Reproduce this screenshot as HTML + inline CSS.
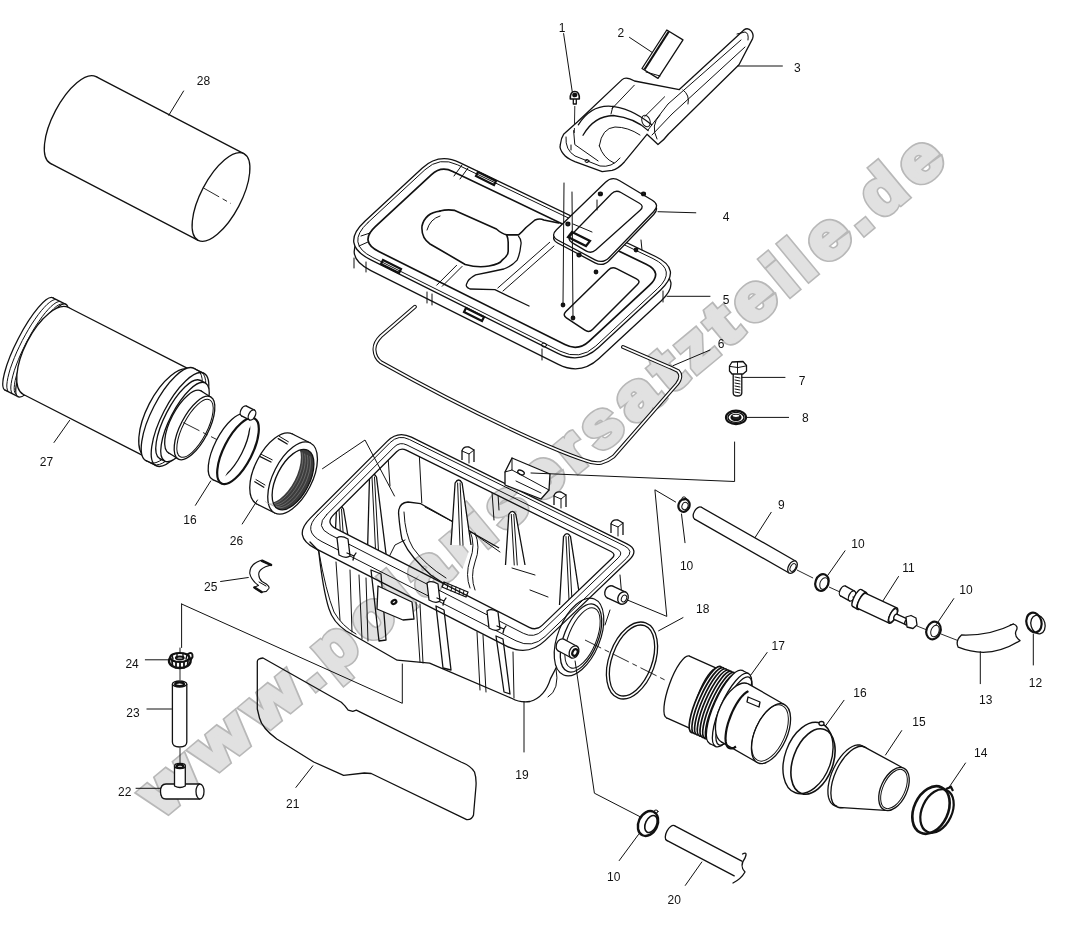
<!DOCTYPE html>
<html><head><meta charset="utf-8"><style>
html,body{margin:0;padding:0;background:#fff;width:1086px;height:944px;overflow:hidden;}
svg{display:block;filter:grayscale(100%);}
.l{fill:none;stroke:#111;stroke-width:1.3;stroke-linejoin:round;stroke-linecap:round;}
.t{fill:none;stroke:#111;stroke-width:1.0;stroke-linecap:round;}
.k{fill:none;stroke:#111;stroke-width:2.2;}
.w{fill:#fff;stroke:#111;stroke-width:1.3;stroke-linejoin:round;}
.none{fill:none;stroke:none;}
.d{fill:none;stroke:#111;stroke-width:0.9;stroke-dasharray:18 4 5 4;}
.lab{font-family:"Liberation Sans",sans-serif;font-size:12px;fill:#111;text-anchor:middle;}
</style></head><body>
<svg width="1086" height="944" viewBox="0 0 1086 944">
<rect width="1086" height="944" fill="#fff"/>
<g font-family="&quot;Liberation Sans&quot;, sans-serif" font-weight="bold" font-size="63" fill="#b8b8b8" stroke="#b8b8b8" stroke-width="7.0" stroke-linejoin="miter">
<text transform="translate(161.2,817.7) rotate(-39.73) scale(1.141,1)">w</text>
<text transform="translate(212.2,775.3) rotate(-39.73) scale(1.141,1)">w</text>
<text transform="translate(263.2,732.9) rotate(-39.73) scale(1.141,1)">w</text>
<text transform="translate(312.7,691.8) rotate(-39.73) scale(1.005,1)">.</text>
<text transform="translate(332.0,675.7) rotate(-39.73) scale(1.024,1)">p</text>
<text transform="translate(369.0,645.0) rotate(-39.73) scale(1.024,1)">o</text>
<text transform="translate(405.1,614.9) rotate(-39.73) scale(1.005,1)">l</text>
<text transform="translate(424.5,598.9) rotate(-39.73) scale(1.125,1)">a</text>
<text transform="translate(460.9,568.6) rotate(-39.73) scale(1.014,1)">r</text>
<text transform="translate(485.2,548.4) rotate(-39.73) scale(1.005,1)">i</text>
<text transform="translate(504.4,532.4) rotate(-39.73) scale(1.021,1)">s</text>
<text transform="translate(538.4,504.2) rotate(-39.73) scale(1.125,1)">e</text>
<text transform="translate(574.8,473.9) rotate(-39.73) scale(1.014,1)">r</text>
<text transform="translate(599.9,453.1) rotate(-39.73) scale(1.021,1)">s</text>
<text transform="translate(633.9,424.8) rotate(-39.73) scale(1.125,1)">a</text>
<text transform="translate(670.3,394.6) rotate(-39.73) scale(1.185,1)">t</text>
<text transform="translate(695.2,373.8) rotate(-39.73) scale(1.021,1)">z</text>
<text transform="translate(725.8,348.5) rotate(-39.73) scale(1.185,1)">t</text>
<text transform="translate(751.0,327.5) rotate(-39.73) scale(1.125,1)">e</text>
<text transform="translate(787.1,297.5) rotate(-39.73) scale(1.005,1)">i</text>
<text transform="translate(805.5,282.2) rotate(-39.73) scale(1.005,1)">l</text>
<text transform="translate(824.9,266.1) rotate(-39.73) scale(1.125,1)">e</text>
<text transform="translate(861.0,236.1) rotate(-39.73) scale(1.005,1)">.</text>
<text transform="translate(880.3,220.0) rotate(-39.73) scale(1.024,1)">d</text>
<text transform="translate(917.3,189.3) rotate(-39.73) scale(1.125,1)">e</text>
</g>
<g font-family="&quot;Liberation Sans&quot;, sans-serif" font-weight="bold" font-size="63" fill="#e1e1e1" stroke="#e1e1e1" stroke-width="3.8" stroke-linejoin="miter">
<text transform="translate(161.2,817.7) rotate(-39.73) scale(1.141,1)">w</text>
<text transform="translate(212.2,775.3) rotate(-39.73) scale(1.141,1)">w</text>
<text transform="translate(263.2,732.9) rotate(-39.73) scale(1.141,1)">w</text>
<text transform="translate(312.7,691.8) rotate(-39.73) scale(1.005,1)">.</text>
<text transform="translate(332.0,675.7) rotate(-39.73) scale(1.024,1)">p</text>
<text transform="translate(369.0,645.0) rotate(-39.73) scale(1.024,1)">o</text>
<text transform="translate(405.1,614.9) rotate(-39.73) scale(1.005,1)">l</text>
<text transform="translate(424.5,598.9) rotate(-39.73) scale(1.125,1)">a</text>
<text transform="translate(460.9,568.6) rotate(-39.73) scale(1.014,1)">r</text>
<text transform="translate(485.2,548.4) rotate(-39.73) scale(1.005,1)">i</text>
<text transform="translate(504.4,532.4) rotate(-39.73) scale(1.021,1)">s</text>
<text transform="translate(538.4,504.2) rotate(-39.73) scale(1.125,1)">e</text>
<text transform="translate(574.8,473.9) rotate(-39.73) scale(1.014,1)">r</text>
<text transform="translate(599.9,453.1) rotate(-39.73) scale(1.021,1)">s</text>
<text transform="translate(633.9,424.8) rotate(-39.73) scale(1.125,1)">a</text>
<text transform="translate(670.3,394.6) rotate(-39.73) scale(1.185,1)">t</text>
<text transform="translate(695.2,373.8) rotate(-39.73) scale(1.021,1)">z</text>
<text transform="translate(725.8,348.5) rotate(-39.73) scale(1.185,1)">t</text>
<text transform="translate(751.0,327.5) rotate(-39.73) scale(1.125,1)">e</text>
<text transform="translate(787.1,297.5) rotate(-39.73) scale(1.005,1)">i</text>
<text transform="translate(805.5,282.2) rotate(-39.73) scale(1.005,1)">l</text>
<text transform="translate(824.9,266.1) rotate(-39.73) scale(1.125,1)">e</text>
<text transform="translate(861.0,236.1) rotate(-39.73) scale(1.005,1)">.</text>
<text transform="translate(880.3,220.0) rotate(-39.73) scale(1.024,1)">d</text>
<text transform="translate(917.3,189.3) rotate(-39.73) scale(1.125,1)">e</text>
</g>
<g>
<ellipse class="w" cx="73.2" cy="120.0" rx="20.0" ry="49.0" transform="rotate(27.8 73.2 120.0)" />
<path d="M96.0,76.6 L243.8,153.6 L198.2,240.4 L50.4,163.4 Z" fill="#fff" stroke="none"/>
<path class="l" d="M96.0,76.6 L243.8,153.6"/>
<path class="l" d="M50.4,163.4 L198.2,240.4"/>
<ellipse class="w" cx="221.0" cy="197.0" rx="20.0" ry="49.0" transform="rotate(27.8 221.0 197.0)" />
<path class="d" d="M203.5,188.0 L231.0,203.6"/>
<ellipse class="w" cx="29.0" cy="344.0" rx="12.0" ry="52.0" transform="rotate(27.4 29.0 344.0)" />
<path d="M52.9,297.8 L65.9,304.3 L18.1,396.7 L5.1,390.2 Z" fill="#fff" stroke="none"/>
<path class="l" d="M52.9,297.8 L65.9,304.3"/>
<path class="l" d="M5.1,390.2 L18.1,396.7"/>
<ellipse class="w" cx="42.0" cy="350.5" rx="12.0" ry="52.0" transform="rotate(27.4 42.0 350.5)" />
<path class="t" d="M8.2,391.5 L7.4,390.0 L6.9,387.8 L6.8,385.0 L7.2,381.5 L7.9,377.6 L9.0,373.1 L10.4,368.3 L12.3,363.0 L14.4,357.6 L16.8,351.9 L19.5,346.2 L22.3,340.5 L25.4,334.8 L28.5,329.3 L31.7,324.1 L35.0,319.2 L38.2,314.7 L41.3,310.7 L44.3,307.3 L47.1,304.4 L49.8,302.2 L52.1,300.6 L54.2,299.7 L55.9,299.5" />
<path class="t" d="M12.2,393.5 L11.4,392.0 L10.9,389.8 L10.8,387.0 L11.2,383.5 L11.9,379.6 L13.0,375.1 L14.4,370.3 L16.3,365.0 L18.4,359.6 L20.8,353.9 L23.5,348.2 L26.3,342.5 L29.4,336.8 L32.5,331.3 L35.7,326.1 L39.0,321.2 L42.2,316.7 L45.3,312.7 L48.3,309.3 L51.1,306.4 L53.8,304.2 L56.1,302.6 L58.2,301.7 L59.9,301.5" />
<path class="t" d="M15.7,394.1 L14.8,392.6 L14.3,390.5 L14.2,387.7 L14.5,384.3 L15.2,380.4 L16.3,376.0 L17.7,371.2 L19.5,366.1 L21.6,360.8 L23.9,355.2 L26.5,349.6 L29.3,344.0 L32.3,338.4 L35.4,333.1 L38.6,327.9 L41.8,323.1 L44.9,318.8 L48.0,314.8 L51.0,311.4 L53.8,308.6 L56.3,306.4 L58.7,304.9 L60.7,304.1 L62.5,303.9" />
<ellipse class="w" cx="46.0" cy="351.0" rx="21.0" ry="49.0" transform="rotate(27.4 46.0 351.0)" />
<path d="M68.5,307.5 L190.5,369.8 L145.5,456.8 L23.5,394.5 Z" fill="#fff" stroke="none"/>
<path class="l" d="M68.5,307.5 L190.5,369.8"/>
<path class="l" d="M23.5,394.5 L145.5,456.8"/>
<ellipse class="w" cx="168.0" cy="413.3" rx="21.0" ry="49.0" transform="rotate(27.4 168.0 413.3)" />
<ellipse class="w" cx="170.0" cy="414.5" rx="18.0" ry="52.0" transform="rotate(27.4 170.0 414.5)" />
<path d="M193.8,368.3 L203.8,373.3 L156.2,465.7 L146.2,460.7 Z" fill="#fff" stroke="none"/>
<path class="l" d="M193.8,368.3 L203.8,373.3"/>
<path class="l" d="M146.2,460.7 L156.2,465.7"/>
<ellipse class="w" cx="180.0" cy="419.5" rx="18.0" ry="52.0" transform="rotate(27.4 180.0 419.5)" />
<path class="t" d="M195.9,369.5 L198.2,370.6 L200.0,372.5 L201.3,375.2 L202.1,378.7 L202.3,382.9 L201.9,387.8 L201.1,393.2 L199.7,399.1 L197.8,405.2 L195.4,411.6 L192.6,418.1 L189.5,424.5 L186.0,430.8 L182.3,436.8 L178.5,442.4 L174.5,447.5 L170.6,452.1 L166.7,455.9 L162.9,459.0 L159.3,461.2 L156.0,462.6 L153.0,463.2 L150.4,462.8 L148.3,461.5" />
<path class="t" d="M199.4,371.3 L201.7,372.3 L203.5,374.2 L204.8,376.9 L205.6,380.5 L205.8,384.7 L205.4,389.6 L204.6,395.0 L203.2,400.8 L201.3,407.0 L198.9,413.4 L196.1,419.8 L193.0,426.3 L189.5,432.6 L185.8,438.6 L182.0,444.2 L178.0,449.3 L174.1,453.8 L170.2,457.6 L166.4,460.7 L162.8,463.0 L159.5,464.4 L156.5,464.9 L153.9,464.5 L151.8,463.3" />
<ellipse class="w" cx="180.0" cy="419.5" rx="15.0" ry="44.0" transform="rotate(27.4 180.0 419.5)" />
<path d="M200.2,380.4 L205.2,382.9 L164.8,461.1 L159.8,458.6 Z" fill="#fff" stroke="none"/>
<path class="l" d="M200.2,380.4 L205.2,382.9"/>
<path class="l" d="M159.8,458.6 L164.8,461.1"/>
<ellipse class="w" cx="185.0" cy="422.0" rx="15.0" ry="44.0" transform="rotate(27.4 185.0 422.0)" />
<ellipse class="w" cx="185.0" cy="422.0" rx="14.0" ry="35.0" transform="rotate(27.4 185.0 422.0)" />
<path d="M201.5,391.2 L211.0,397.2 L178.0,458.8 L168.5,452.8 Z" fill="#fff" stroke="none"/>
<path class="l" d="M201.5,391.2 L211.0,397.2"/>
<path class="l" d="M168.5,452.8 L178.0,458.8"/>
<ellipse class="w" cx="194.5" cy="428.0" rx="14.0" ry="35.0" transform="rotate(27.4 194.5 428.0)" />
<ellipse class="t" cx="195.0" cy="428.3" rx="12.0" ry="32.0" transform="rotate(27.4 195.0 428.3)" />
<path class="d" d="M183.4,422.6 L217.7,440.0"/>
<ellipse class="w" cx="229.0" cy="447.0" rx="14.2" ry="36.4" transform="rotate(27 229.0 447.0)" />
<path d="M245.3,414.4 L254.3,418.4 L221.7,483.6 L212.7,479.6 Z" fill="#fff" stroke="none"/>
<path class="l" d="M245.3,414.4 L254.3,418.4"/>
<path class="l" d="M212.7,479.6 L221.7,483.6"/>
<ellipse class="k" cx="238.0" cy="451.0" rx="14.2" ry="36.4" transform="rotate(27 238.0 451.0)" />
<ellipse class="w" cx="244.0" cy="411.0" rx="3.2" ry="5.5" transform="rotate(27 244.0 411.0)" />
<path d="M246.5,406.1 L254.5,410.1 L249.5,419.9 L241.5,415.9 Z" fill="#fff" stroke="none"/>
<path class="l" d="M246.5,406.1 L254.5,410.1"/>
<path class="l" d="M241.5,415.9 L249.5,419.9"/>
<ellipse class="w" cx="252.0" cy="415.0" rx="3.2" ry="5.5" transform="rotate(27 252.0 415.0)" />
<ellipse class="w" cx="274.6" cy="469.0" rx="19.4" ry="39.3" transform="rotate(27 274.6 469.0)" />
<path d="M292.4,434.0 L310.4,443.0 L274.8,513.0 L256.8,504.0 Z" fill="#fff" stroke="none"/>
<path class="l" d="M292.4,434.0 L310.4,443.0"/>
<path class="l" d="M256.8,504.0 L274.8,513.0"/>
<ellipse class="w" cx="292.6" cy="478.0" rx="19.4" ry="39.3" transform="rotate(27 292.6 478.0)" />
<defs><clipPath id="nutc"><ellipse cx="293" cy="479.6" rx="16.4" ry="32.9" transform="rotate(27 293 479.6)"/></clipPath></defs>
<g clip-path="url(#nutc)"><rect x="250" y="430" width="80" height="100" fill="#3c3c3c"/><ellipse class="none" cx="280.0" cy="473.0" rx="16.4" ry="32.9" transform="rotate(27 280.0 473.0)" style="fill:#fff"/></g>
<path class="t" d="M309.9,456.6 L310.3,459.1 L310.5,461.9 L310.4,465.0 L310.0,468.2 L309.4,471.5 L308.4,474.9 L307.3,478.4 L305.9,481.9 L304.3,485.3 L302.4,488.6 L300.5,491.7 L298.3,494.7 L296.1,497.5 L293.8,500.0 L291.4,502.2 L289.1,504.0 L286.7,505.6 L284.4,506.7 L282.1,507.5 L280.0,507.8 L277.9,507.8 L276.1,507.3 L274.4,506.5 L273.0,505.3" style="stroke:#999;stroke-width:0.5"/>
<path class="t" d="M307.3,455.3 L307.7,457.8 L307.9,460.6 L307.8,463.7 L307.4,466.9 L306.8,470.2 L305.8,473.6 L304.7,477.1 L303.3,480.6 L301.7,484.0 L299.8,487.3 L297.9,490.4 L295.7,493.4 L293.5,496.2 L291.2,498.7 L288.8,500.9 L286.5,502.7 L284.1,504.3 L281.8,505.4 L279.5,506.2 L277.4,506.5 L275.3,506.5 L273.5,506.0 L271.8,505.2 L270.4,504.0" style="stroke:#999;stroke-width:0.5"/>
<path class="t" d="M304.7,454.0 L305.1,456.5 L305.3,459.3 L305.2,462.4 L304.8,465.6 L304.2,468.9 L303.2,472.3 L302.1,475.8 L300.7,479.3 L299.1,482.7 L297.2,486.0 L295.3,489.1 L293.1,492.1 L290.9,494.9 L288.6,497.4 L286.2,499.6 L283.9,501.4 L281.5,503.0 L279.2,504.1 L276.9,504.9 L274.8,505.2 L272.7,505.2 L270.9,504.7 L269.2,503.9 L267.8,502.7" style="stroke:#999;stroke-width:0.5"/>
<path class="t" d="M302.1,452.7 L302.5,455.2 L302.7,458.0 L302.6,461.1 L302.2,464.3 L301.6,467.6 L300.6,471.0 L299.5,474.5 L298.1,478.0 L296.5,481.4 L294.6,484.7 L292.7,487.8 L290.5,490.8 L288.3,493.6 L286.0,496.1 L283.6,498.3 L281.3,500.1 L278.9,501.7 L276.6,502.8 L274.3,503.6 L272.2,503.9 L270.1,503.9 L268.3,503.4 L266.6,502.6 L265.2,501.4" style="stroke:#999;stroke-width:0.5"/>
<ellipse class="l" cx="293.0" cy="479.6" rx="16.4" ry="32.9" transform="rotate(27 293.0 479.6)" />
<path class="l" d="M278.2,438.6 L287.2,444.0"/>
<path class="t" d="M279.4,436.4 L288.4,441.8"/>
<path class="l" d="M260.2,456.6 L271.0,462.0"/>
<path class="t" d="M261.4,454.4 L272.2,459.8"/>
<path class="l" d="M254.8,481.8 L263.8,487.2"/>
<path class="t" d="M256.0,479.6 L265.0,485.0"/>
<path class="w" d="M260.5,560.4 L271.3,564.9 L265.5,566.7 Q258,570 258.8,575 Q259,579 262,581.5 L266.3,584 Q270,587 268.8,588.5 L266.3,591.4 L261.3,592.3 L254,587.3 L258.5,585.5 Q251,580 249.7,573.2 Q250,564 260.5,560.4 Z" style="stroke-width:1.1"/>
<path class="l" d="M262,560.8 L271,564.9" style="stroke-width:2.6"/>
<path class="l" d="M254.5,587.5 L261.5,592" style="stroke-width:2.6"/>
<path class="t" d="M259,582 L266,586" />
<path class="l" d="M188,654 Q193,651 192.5,657 L190,661" style="stroke-width:2"/>
<ellipse class="w" cx="179.8" cy="661.0" rx="10.8" ry="7.0" style="stroke-width:2.4"/>
<ellipse class="w" cx="179.8" cy="657.5" rx="9.5" ry="4.5" style="stroke-width:2.2"/>
<ellipse class="w" cx="179.8" cy="658.0" rx="4.0" ry="1.5" style="stroke:#111;stroke-width:1.8"/>
<path class="l" d="M172,661 L172.5,666 M176,662.5 L176,667.5 M180,663 L180,668 M184,662.5 L184,667.5 M188,661 L187.5,666" style="stroke-width:1.8"/>
<path class="t" d="M172,655 L173,659 M177,653.5 L177,658 M183,653.5 L183,658 M187,655 L186,659" style="stroke-width:1.4"/>
<path class="w" d="M172.4,684 L172.4,742 Q172.4,747 179.6,747 Q186.8,747 186.8,742 L186.8,684" />
<ellipse class="w" cx="179.6" cy="684.0" rx="7.2" ry="3.0" />
<ellipse class="k" cx="179.6" cy="684.2" rx="4.5" ry="1.8" />
<path class="w" d="M200,784 L166,784 Q160.5,784 160.5,791.5 Q160.5,799 166,799 L200,799" />
<ellipse class="w" cx="200.0" cy="791.5" rx="4.0" ry="7.5" />
<path class="w" d="M174.5,766 L174.5,786 Q180,789 185.3,786 L185.3,766" />
<ellipse class="w" cx="180.0" cy="766.0" rx="5.4" ry="2.6" />
<ellipse class="k" cx="180.0" cy="766.3" rx="3.4" ry="1.6" />
<path class="t" d="M181.6,604.0 L181.6,647.5"/>
<path class="t" d="M180.0,648.0 L180.0,652.0"/>
<path class="d" d="M180.0,666.0 L180.0,680.0"/>
<path class="d" d="M180.0,748.0 L180.0,763.0"/>
<path class="l" d="M257.3,662 Q257,658.5 263,658 L341.3,702.2 L344.7,705.6 L348.2,710.2 L352.8,711.4 L356.3,710.2 L461,762 Q471,766 474.5,772 Q476.5,778 476,786 L473.5,815 Q472,820 466.7,819.6 L371.2,773.5 L364.3,773 L343.6,775.4 L313.7,762 L276.8,739 Q262,728 259.5,718 L257.3,709 Z" />
<path class="t" d="M181.6,604 L402.3,703.3 L402.3,664" />
</g>
<g>
<path class="w" d="M365.4,232.3 L422.6,179.2 Q439.5,163.6 460.2,173.6 L656.1,267.5 Q683.1,280.5 661.1,300.9 L599.0,358.6 Q580.7,375.6 558.3,364.4 L370.9,270.6 Q340.5,255.4 365.4,232.3 Z" />
<path class="w" d="M364.9,221.3 L422.1,168.2 Q439.0,152.6 459.7,162.6 L655.6,256.5 Q682.6,269.5 660.6,289.9 L598.5,347.6 Q580.2,364.6 557.8,353.4 L370.4,259.6 Q340.0,244.4 364.9,221.3 Z" />
<path class="t" d="M367.9,222.6 L424.9,169.8 Q439.5,156.2 457.6,164.8 L653.0,258.6 Q677.3,270.3 657.5,288.7 L595.8,346.0 Q579.7,361.0 560.0,351.1 L372.9,257.5 Q345.2,243.7 367.9,222.6 Z" />
<path class="l" d="M375.3,226.7 L431.5,174.6 Q441.0,165.8 452.7,171.4 L646.2,264.2 Q663.3,272.4 649.4,285.4 L589.3,341.1 Q578.3,351.4 564.9,344.6 L378.8,251.5 Q359.1,241.7 375.3,226.7 Z" style="stroke-width:1.7"/>
<path class="t" d="M354.0,258.0 L354.0,268.0"/>
<path class="t" d="M366.0,262.0 L366.0,272.0"/>
<path class="t" d="M427.0,292.0 L427.0,303.0"/>
<path class="t" d="M432.0,294.0 L432.0,305.0"/>
<path class="t" d="M542.0,349.0 L542.0,360.0"/>
<path class="t" d="M663.0,291.0 L663.0,302.0"/>
<path class="t" d="M436.7,285.2 L456.6,265.3 M442.2,286.3 L462.1,266.4" />
<path class="t" d="M497.8,288 L549.7,242.3 M503,291 L554,246" />
<path class="t" d="M462,165 L454,176 M468,168 L460,179" />
<path class="t" d="M359,246 L368,242 M361,236 L370,233" />
<path class="l" d="M440,211.1 Q447,209 454.8,210.4 L496.4,229 Q502,234 506.7,234.9 L518.6,234.9 Q522,232 526,227.5 L535,220 Q540,218 543.8,220 L558.6,223" style="stroke-width:1.6"/>
<path class="l" d="M440,211.1 Q425,213 422,226 Q421,238 430,244 L440,249.7 L465.2,264.5 Q478,268 489,266 Q500,264 502.3,260 Q508,256 508.2,251.2 L508.2,242.3 Q508,238 506.7,234.9" style="stroke-width:1.6"/>
<path class="l" d="M518.6,236.4 Q522,240 520.8,245.3 Q520,254 517.1,260.1 Q512,266 503.8,269 Q490,272 475.6,274.9 Q468,279 466.7,283.8 Q465,287 470,289 L494.9,289.7 L529,306" />
<path class="t" d="M427,230 Q430,219 440,216" />
<path class="l" d="M565.9,311.5 L608.4,270.0 Q612.0,266.5 616.5,268.7 L636.5,278.8 Q641.0,281.0 637.5,284.5 L592.5,329.5 Q589.0,333.0 584.9,330.2 L566.4,317.8 Q562.3,315.0 565.9,311.5 Z" style="stroke-width:1.5"/>
<path class="k" d="M383,260 L401,269 L399,273 L381,264 Z" />
<path class="k" d="M478,172 L496,181 L494,185 L476,176 Z" />
<path class="k" d="M466,308 L484,317 L482,321 L464,312 Z" />
<ellipse class="t" cx="544.0" cy="345.0" rx="2.5" ry="2.0" />
<path class="w" d="M556.5,232.7 L605.5,185.3 Q612.0,179.0 619.7,183.7 L652.3,203.3 Q660.0,208.0 653.7,214.5 L609.3,260.5 Q603.0,267.0 595.0,262.8 L558.0,243.2 Q550.0,239.0 556.5,232.7 Z" />
<path class="w" d="M556.5,229.7 L605.5,182.3 Q612.0,176.0 619.7,180.7 L652.3,200.3 Q660.0,205.0 653.7,211.5 L609.3,257.5 Q603.0,264.0 595.0,259.8 L558.0,240.2 Q550.0,236.0 556.5,229.7 Z" />
<path class="l" d="M571.0,235.2 L611.5,193.8 Q615.7,189.5 620.9,192.5 L639.4,203.2 Q644.6,206.2 640.1,210.2 L595.7,250.0 Q591.2,254.0 586.0,250.9 L572.0,242.6 Q566.8,239.5 571.0,235.2 Z" />
<ellipse class="k" cx="600.4" cy="193.9" rx="1.5" ry="1.3" />
<ellipse class="k" cx="643.5" cy="193.9" rx="1.5" ry="1.3" />
<ellipse class="k" cx="567.9" cy="224.0" rx="1.5" ry="1.3" />
<ellipse class="k" cx="579.0" cy="255.0" rx="1.5" ry="1.3" />
<path class="k" d="M572,232 L590,241 L586,246 L568,237 Z" />
<path class="t" d="M573,224 L592,232" />
<path class="t" d="M564.0,183.0 L563.0,305.0"/>
<path class="t" d="M572.0,192.0 L573.0,318.0"/>
<path class="t" d="M597.0,200.0 L597.0,210.0"/>
<path class="t" d="M641.0,240.0 L642.0,250.0"/>
<ellipse class="k" cx="563.0" cy="305.0" rx="1.3" ry="1.3" />
<ellipse class="k" cx="573.0" cy="318.0" rx="1.3" ry="1.3" />
<ellipse class="k" cx="596.0" cy="272.0" rx="1.3" ry="1.3" />
<ellipse class="k" cx="636.0" cy="250.0" rx="1.3" ry="1.3" />
<path class="l" d="M414.9,306.7 L381,336 Q374,343 374.5,350 Q375,358 381,362.3 Q450,401 520,433.5 Q560,452 585.4,460.5 Q594,464 601,462.8 Q608,461 613.6,456.5 L677,384 Q683,376 678,371 L670,367.3 L623,347" style="stroke-width:3.9"/>
<path class="l" d="M414.9,306.7 L381,336 Q374,343 374.5,350 Q375,358 381,362.3 Q450,401 520,433.5 Q560,452 585.4,460.5 Q594,464 601,462.8 Q608,461 613.6,456.5 L677,384 Q683,376 678,371 L670,367.3 L623,347" style="stroke:#fff;stroke-width:1.8"/>
<path class="w" d="M577.3,122 L622.1,79.6 Q626,76 634.5,81 L679.3,89.6 L743.9,29.9 Q748,27 751.4,31.2 Q754,35 752.6,38.6 L739,64.7 L668.5,134 Q664,140 658,144.5 L647,134.3 L624.6,161.7 Q618,169 612.1,170.4 L602.2,171.6 L574.8,161.7 Q566,158 563.6,154.2 Q559,149 560.4,144.3 Q561,138 563.6,134.3 Z" />
<path class="l" d="M578.3,124.8 Q590,106 608.6,106.1 Q630,107 651.7,124.8" />
<path class="l" d="M583,135.3 Q594,116 613.3,115.5 Q635,118 648.2,130.6" />
<path class="t" d="M599.3,145.8 Q602,128 615,127 Q628,127 640,135" />
<path class="t" d="M599.3,145.8 Q603,158 614,163" />
<path class="t" d="M634.3,85.2 L612.1,108.5 M664.6,96.8 L644.7,116.6 M613,106 L611,114" />
<path class="t" d="M566,137 Q565,150 575,156 L600,166 Q612,168 620,158" />
<path class="t" d="M573.6,130.6 L574.8,144.6 L598.1,160.9" />
<ellipse class="t" cx="646.0" cy="121.0" rx="4.0" ry="6.0" transform="rotate(-20 646.0 121.0)" />
<path class="t" d="M648,130 L668,104 L741,40" />
<path class="t" d="M652,135 L672,114 L745,47" />
<path class="t" d="M657,139 Q650,125 660,115" />
<path class="t" d="M683,90 Q690,95 688,104" />
<path class="t" d="M737,34 L745,32 Q749,33 748,40" />
<path class="t" d="M571,150 L571,145" />
<ellipse class="t" cx="587.0" cy="161.0" rx="2.0" ry="1.5" />
<path class="w" d="M642,68.5 L666.8,30 L683,39.9 L658,78.4 Z" />
<path class="k" d="M644.5,69.5 L668.8,31.5" />
<path class="t" d="M646,72 L660,76" />
<path class="l" d="M573.3,99.5 L573.3,104 L576.3,104 L576.3,99.5" />
<path class="w" d="M570.3,99 Q570,91.5 574.8,91.5 Q579.6,91.5 579.3,99 Z" style="stroke-width:1.6"/>
<ellipse class="k" cx="574.8" cy="95.0" rx="1.5" ry="1.2" />
<path class="d" d="M574.8,106.0 L574.3,134.3"/>
<path class="w" d="M733.2,374 L733.2,393 Q733.2,396 737.5,396 Q741.8,396 741.8,393 L741.8,374" />
<path class="t" d="M735,377 L740,378 M735,380 L740,381 M735,383 L740,384 M735,386 L740,387 M735,389 L740,390 M735,392 L740,393" />
<path class="w" d="M729.5,366 L732,362 L743,361.5 L746.5,365.5 L746.5,371 L743,374 L732,374 L729.5,371 Z" />
<path class="t" d="M730,366.5 Q738,369 746,366 M737.5,362 L737.5,373" />
<ellipse class="k" cx="736.0" cy="417.4" rx="10.0" ry="6.7" />
<ellipse class="w" cx="736.0" cy="417.4" rx="8.0" ry="5.0" />
<ellipse class="k" cx="736.0" cy="417.4" rx="4.5" ry="2.6" style="fill:#222"/>
<ellipse class="w" cx="736.0" cy="415.8" rx="3.3" ry="1.1" style="stroke:none"/>
</g>
<g>
<defs><clipPath id="boxin"><path d="M333.7,514.6 L396.6,451.7 Q400.8,447.5 406.2,450.2 L611.0,551.5 Q616.4,554.2 612.0,558.3 L542.1,625.4 Q536.4,631.0 529.2,627.3 L335.9,528.6 Q325.2,523.1 333.7,514.6 Z"/></clipPath></defs>
<path class="l" d="M310,542 L318.7,551 Q323,590 328.9,608.6 Q333,622 345.8,630.7 L397.2,660.2 L429.6,663.1 L512.1,698.5 Q520,703 530,701.5 Q545,697 550.5,678.6 L556,668" />
<path class="t" d="M318.7,551 Q326,592 334,612 Q342,626 356,634" />
<ellipse class="none" cx="579.0" cy="637.0" rx="21.0" ry="41.0" transform="rotate(22 579.0 637.0)" style="fill:#fff;stroke:#111;stroke-width:1.2"/>
<ellipse class="l" cx="581.0" cy="638.0" rx="17.0" ry="36.0" transform="rotate(22 581.0 638.0)" />
<ellipse class="t" cx="582.5" cy="638.0" rx="14.0" ry="32.0" transform="rotate(22 582.5 638.0)" />
<path class="t" d="M556,668 Q560,690 548,697" />
<path class="t" d="M622,598 L620,575 M610,610 L605,625" />
<ellipse class="w" cx="561.0" cy="645.0" rx="4.5" ry="6.5" transform="rotate(25 561.0 645.0)" />
<path d="M563.9,639.2 L576.9,646.2 L571.1,657.8 L558.1,650.8 Z" fill="#fff" stroke="none"/>
<path class="l" d="M563.9,639.2 L576.9,646.2"/>
<path class="l" d="M558.1,650.8 L571.1,657.8"/>
<ellipse class="w" cx="574.0" cy="652.0" rx="4.5" ry="6.5" transform="rotate(25 574.0 652.0)" />
<ellipse class="k" cx="575.0" cy="652.5" rx="2.5" ry="3.5" transform="rotate(25 575.0 652.5)" />
<ellipse class="w" cx="610.0" cy="592.0" rx="5.0" ry="6.5" transform="rotate(25 610.0 592.0)" />
<path d="M612.7,586.1 L625.7,592.1 L620.3,603.9 L607.3,597.9 Z" fill="#fff" stroke="none"/>
<path class="l" d="M612.7,586.1 L625.7,592.1"/>
<path class="l" d="M607.3,597.9 L620.3,603.9"/>
<ellipse class="w" cx="623.0" cy="598.0" rx="5.0" ry="6.5" transform="rotate(25 623.0 598.0)" />
<ellipse class="t" cx="624.0" cy="598.5" rx="2.5" ry="3.5" transform="rotate(25 624.0 598.5)" />
<path class="t" d="M359.0,575.0 L362.0,639.0"/>
<path class="t" d="M366.0,578.0 L368.0,641.0"/>
<path class="t" d="M416.0,602.0 L420.0,662.0"/>
<path class="t" d="M420.0,604.0 L423.0,663.0"/>
<path class="t" d="M477.0,632.0 L480.0,690.0"/>
<path class="t" d="M483.0,635.0 L486.0,692.0"/>
<path class="t" d="M513.0,652.0 L514.0,698.0"/>
<path class="t" d="M350.0,570.0 L352.0,632.0"/>
<path class="t" d="M336.0,562.0 L340.0,620.0"/>
<path class="l" d="M371,570 L381,574 L386,640 L379,641 Z" />
<path class="l" d="M436,606 L444,610 L451,670 L443,668 Z" />
<path class="l" d="M496,636 L503,639 L510,694 L504,692 Z" />
<path class="w" d="M378,586 L412,602 L414,619 L403,620 L377,609 Z" />
<ellipse class="k" cx="394.0" cy="602.0" rx="2.5" ry="1.8" transform="rotate(-30 394.0 602.0)" />
<g clip-path="url(#boxin)">
<path class="none" d="M470,548 L566,596 L600,600 L585,630 L540,640 L470,605 L455,590 Z" style="fill:#fff;stroke:none"/>
<path class="t" d="M387.0,441.0 L390.0,486.0"/>
<path class="t" d="M418.5,440.0 L421.8,503.0"/>
<path class="t" d="M491.0,478.0 L494.0,520.0"/>
<path class="t" d="M497.0,478.0 L499.0,510.0"/>
<path class="l" d="M398.6,514 Q398,503 408,502 L420.7,503.7 L451.2,520.7 L498.6,547.8" />
<path class="l" d="M398.6,514 Q400,530 402,539.3 Q407,550 414,558 Q422,567 430.8,575 L446,585" />
<path class="t" d="M404,512 Q405,535 413,548 Q425,565 446,578" />
<path class="t" d="M425,507 L470,531 L500,552" />
<path class="t" d="M470,531 Q476,545 470,560 Q465,575 470,588" />
<path class="t" d="M475,533 Q481,547 475,562 Q470,577 475,590" />
<path class="t" d="M512.0,568.0 L535.0,575.0"/>
<path class="t" d="M530.0,590.0 L548.0,597.0"/>
<path class="t" d="M380,575 L395,545 L405,540" />
<path class="w" d="M334,560 L336.5,509 Q340,503 343.5,509 L352,560" />
<path class="t" d="M339,509 L342.0,560 M341.5,509 L345.0,560" />
<path class="w" d="M367,570 L369.5,477 Q373,471 376.5,477 L388,570" />
<path class="t" d="M372,477 L376.5,570 M374.5,477 L379.5,570" />
<path class="w" d="M451,545 L455.1,483 Q458.6,477 462.1,483 L471,545" />
<path class="t" d="M457.6,483 L460.0,545 M460.1,483 L463.0,545" />
<path class="w" d="M505.5,565 L508.79999999999995,514.4 Q512.3,508.4 515.8,514.4 L525,565" />
<path class="t" d="M511.29999999999995,514.4 L514.25,565 M513.8,514.4 L517.25,565" />
<path class="w" d="M559.5,605 L563.5,536.6 Q567,530.6 570.5,536.6 L581,605" />
<path class="t" d="M566,536.6 L569.25,605 M568.5,536.6 L572.25,605" />
</g>
<path class="l" d="M310.4,518.1 L387.4,441.1 Q398.0,430.5 411.4,437.2 L627.0,543.8 Q639.5,550.0 629.4,559.7 L545.3,640.4 Q528.0,657.0 506.6,646.1 L315.2,548.3 Q292.0,536.5 310.4,518.1 Z" style="stroke-width:1.3"/>
<path class="t" d="M317.8,515.0 L390.1,442.6 Q398.6,434.1 409.4,439.5 L624.5,545.9 Q634.3,550.8 626.4,558.4 L545.0,636.5 Q532.0,649.0 516.0,640.8 L322.0,541.7 Q301.5,531.2 317.8,515.0 Z" />
<path class="t" d="M326.6,514.7 L394.1,447.1 Q399.8,441.4 407.0,445.0 L616.8,548.8 Q624.0,552.4 618.2,557.9 L542.7,630.4 Q534.0,638.7 523.3,633.3 L329.7,534.4 Q314.5,526.7 326.6,514.7 Z" />
<path class="l" d="M333.7,514.6 L396.6,451.7 Q400.8,447.5 406.2,450.2 L611.0,551.5 Q616.4,554.2 612.0,558.3 L542.1,625.4 Q536.4,631.0 529.2,627.3 L335.9,528.6 Q325.2,523.1 333.7,514.6 Z" />
<path class="l" d="M444,582 L468,592 L466,597 L442,587 Z" />
<path class="t" d="M448,584 L447,589 M452,585.5 L451,591 M456,587 L455,592.5 M460,589 L459,594 M464,590.5 L463,595.5" />
<path class="w" d="M462,460 L462,451 Q463,446 469,447 L474,450 L474,462" />
<path class="t" d="M462,451 L469,454 L474,450 M469,454 L469,463" />
<path class="w" d="M554,505 L554,496 Q555,491 561,492 L566,495 L566,507" />
<path class="t" d="M554,496 L561,499 L566,495 M561,499 L561,508" />
<path class="w" d="M611,533 L611,524 Q612,519 618,520 L623,523 L623,535" />
<path class="t" d="M611,524 L618,527 L623,523 M618,527 L618,536" />
<path class="w" d="M337,538 Q341,535 348,539 L350,556 Q346,559 339,555 Z" />
<path class="l" d="M347,553 L354,556 L353,560 M354,556 L356,553" />
<path class="w" d="M427,583 Q431,580 438,584 L440,601 Q436,604 429,600 Z" />
<path class="l" d="M437,598 L444,601 L443,605 M444,601 L446,598" />
<path class="w" d="M487,611 Q491,608 498,612 L500,629 Q496,632 489,628 Z" />
<path class="l" d="M497,626 L504,629 L503,633 M504,629 L506,626" />
<path class="w" d="M505,472 L512,458 L550,474 L549,490 L541,499 L505,485 Z" />
<path class="t" d="M512,458 L512,470 L505,472 M512,470 L549,490" />
<ellipse class="l" cx="521.0" cy="472.5" rx="3.5" ry="2.0" transform="rotate(25 521.0 472.5)" />
<path class="t" d="M516.0,481.0 L541.0,493.0"/>
<path class="t" d="M322.5,468.7 L365,440 L394.5,496" />
</g>
<g>
<path class="t" d="M531,473 L734.6,481.5 L734.6,442" />
<path class="t" d="M675.6,502 L654.9,489.8 L666.8,616.4 L628.1,600.3" />
<path class="t" d="M575.1,661 L594.4,793.2 L639.8,816.6" />
<path class="d" d="M585.0,640.0 L667.0,681.0"/>
<ellipse class="k" cx="684.0" cy="505.4" rx="5.5" ry="6.5" transform="rotate(20 684.0 505.4)" />
<ellipse class="t" cx="685.0" cy="506.0" rx="3.0" ry="3.8" transform="rotate(20 685.0 506.0)" />
<ellipse class="t" cx="684.0" cy="498.5" rx="2.0" ry="1.6" />
<ellipse class="w" cx="698.0" cy="513.2" rx="4.0" ry="6.8" transform="rotate(29.7 698.0 513.2)" />
<path d="M701.4,507.3 L795.9,561.2 L789.1,573.0 L694.6,519.1 Z" fill="#fff" stroke="none"/>
<path class="l" d="M701.4,507.3 L795.9,561.2"/>
<path class="l" d="M694.6,519.1 L789.1,573.0"/>
<ellipse class="w" cx="792.5" cy="567.1" rx="4.0" ry="6.8" transform="rotate(29.7 792.5 567.1)" />
<ellipse class="t" cx="793.0" cy="567.5" rx="2.5" ry="4.2" transform="rotate(29.7 793.0 567.5)" />
<path class="d" d="M797.0,570.0 L817.0,580.0"/>
<ellipse class="k" cx="822.0" cy="582.5" rx="6.5" ry="8.5" transform="rotate(20 822.0 582.5)" />
<ellipse class="t" cx="824.0" cy="583.5" rx="4.0" ry="6.0" transform="rotate(20 824.0 583.5)" />
<path class="d" d="M829.0,587.0 L840.0,592.0"/>
<ellipse class="w" cx="843.0" cy="591.0" rx="3.0" ry="5.5" transform="rotate(27 843.0 591.0)" />
<path d="M845.5,586.1 L854.5,591.1 L849.5,600.9 L840.5,595.9 Z" fill="#fff" stroke="none"/>
<path class="l" d="M845.5,586.1 L854.5,591.1"/>
<path class="l" d="M840.5,595.9 L849.5,600.9"/>
<ellipse class="w" cx="852.0" cy="596.0" rx="3.0" ry="5.5" transform="rotate(27 852.0 596.0)" />
<path class="l" d="M853.0,597.0 L858.0,600.0"/>
<ellipse class="w" cx="857.0" cy="598.0" rx="3.0" ry="9.5" transform="rotate(27 857.0 598.0)" />
<path d="M861.4,589.6 L866.4,592.6 L857.6,609.4 L852.6,606.4 Z" fill="#fff" stroke="none"/>
<path class="l" d="M861.4,589.6 L866.4,592.6"/>
<path class="l" d="M852.6,606.4 L857.6,609.4"/>
<ellipse class="w" cx="862.0" cy="601.0" rx="3.0" ry="9.5" transform="rotate(27 862.0 601.0)" />
<ellipse class="w" cx="862.0" cy="601.0" rx="3.0" ry="8.5" transform="rotate(27 862.0 601.0)" />
<path d="M865.8,593.4 L896.8,607.9 L889.2,623.1 L858.2,608.6 Z" fill="#fff" stroke="none"/>
<path class="l" d="M865.8,593.4 L896.8,607.9"/>
<path class="l" d="M858.2,608.6 L889.2,623.1"/>
<ellipse class="w" cx="893.0" cy="615.5" rx="3.0" ry="8.5" transform="rotate(27 893.0 615.5)" />
<ellipse class="w" cx="893.0" cy="615.5" rx="3.0" ry="7.5" transform="rotate(27 893.0 615.5)" />
<ellipse class="w" cx="896.0" cy="617.0" rx="2.0" ry="3.0" transform="rotate(27 896.0 617.0)" />
<path d="M897.3,614.3 L908.3,619.3 L905.7,624.7 L894.7,619.7 Z" fill="#fff" stroke="none"/>
<path class="l" d="M897.3,614.3 L908.3,619.3"/>
<path class="l" d="M894.7,619.7 L905.7,624.7"/>
<ellipse class="w" cx="907.0" cy="622.0" rx="2.0" ry="3.0" transform="rotate(27 907.0 622.0)" />
<path class="w" d="M906,617 L911,615.5 L916,618 L917,625 L913,628.5 L907,627 Z" />
<path class="d" d="M917.0,626.0 L927.0,630.0"/>
<ellipse class="k" cx="933.5" cy="630.5" rx="7.0" ry="9.0" transform="rotate(20 933.5 630.5)" />
<ellipse class="t" cx="935.0" cy="631.0" rx="4.0" ry="6.0" transform="rotate(20 935.0 631.0)" />
<path class="d" d="M941.0,634.0 L958.0,640.6"/>
<path class="w" d="M961.5,635 Q990,636 1013.4,624 Q1019,626 1016,631 Q1014,636 1020,640.6 Q990,660 958.2,647.2 Q955,641 961.5,635 Z" />
<path class="t" d="M1013.4,624 L1010,625" />
<ellipse class="k" cx="1034.0" cy="622.5" rx="7.5" ry="10.0" transform="rotate(-15 1034.0 622.5)" />
<ellipse class="l" cx="1038.0" cy="624.5" rx="7.0" ry="9.5" transform="rotate(-15 1038.0 624.5)" />
<ellipse class="l" cx="632.0" cy="660.5" rx="23.0" ry="40.0" transform="rotate(20 632.0 660.5)" style="stroke-width:1.3"/>
<ellipse class="l" cx="632.0" cy="660.5" rx="20.0" ry="37.0" transform="rotate(20 632.0 660.5)" style="stroke-width:1.3"/>
<ellipse class="w" cx="678.0" cy="687.0" rx="9.0" ry="33.0" transform="rotate(20 678.0 687.0)" />
<path d="M689.4,656.1 L717.4,668.6 L694.6,730.4 L666.6,717.9 Z" fill="#fff" stroke="none"/>
<path class="l" d="M689.4,656.1 L717.4,668.6"/>
<path class="l" d="M666.6,717.9 L694.6,730.4"/>
<ellipse class="w" cx="706.0" cy="699.5" rx="9.0" ry="33.0" transform="rotate(20 706.0 699.5)" />
<ellipse class="w" cx="706.0" cy="699.5" rx="9.0" ry="36.0" transform="rotate(24 706.0 699.5)" style="stroke-width:1.7"/>
<ellipse class="w" cx="708.7" cy="700.7" rx="9.0" ry="36.0" transform="rotate(24 708.7 700.7)" style="stroke-width:1.7"/>
<ellipse class="w" cx="711.4" cy="701.9" rx="9.0" ry="36.0" transform="rotate(24 711.4 701.9)" style="stroke-width:1.7"/>
<ellipse class="w" cx="714.1" cy="703.1" rx="9.0" ry="36.0" transform="rotate(24 714.1 703.1)" style="stroke-width:1.7"/>
<ellipse class="w" cx="716.8" cy="704.3" rx="9.0" ry="36.0" transform="rotate(24 716.8 704.3)" style="stroke-width:1.7"/>
<ellipse class="w" cx="719.5" cy="705.5" rx="9.0" ry="36.0" transform="rotate(24 719.5 705.5)" style="stroke-width:1.7"/>
<ellipse class="w" cx="722.2" cy="706.7" rx="9.0" ry="36.0" transform="rotate(24 722.2 706.7)" style="stroke-width:1.7"/>
<ellipse class="w" cx="724.9" cy="707.9" rx="9.0" ry="36.0" transform="rotate(24 724.9 707.9)" style="stroke-width:1.7"/>
<ellipse class="w" cx="726.0" cy="707.0" rx="12.0" ry="40.0" transform="rotate(24 726.0 707.0)" />
<path d="M742.4,670.5 L748.4,673.5 L715.6,746.5 L709.6,743.5 Z" fill="#fff" stroke="none"/>
<path class="l" d="M742.4,670.5 L748.4,673.5"/>
<path class="l" d="M709.6,743.5 L715.6,746.5"/>
<ellipse class="w" cx="732.0" cy="710.0" rx="12.0" ry="40.0" transform="rotate(24 732.0 710.0)" />
<ellipse class="l" cx="734.0" cy="711.0" rx="11.0" ry="37.0" transform="rotate(24 734.0 711.0)" />
<ellipse class="w" cx="735.0" cy="713.0" rx="16.0" ry="32.0" transform="rotate(24 735.0 713.0)" />
<path d="M748.7,684.1 L784.7,704.7 L757.3,762.5 L721.3,741.9 Z" fill="#fff" stroke="none"/>
<path class="l" d="M748.7,684.1 L784.7,704.7"/>
<path class="l" d="M721.3,741.9 L757.3,762.5"/>
<ellipse class="w" cx="771.0" cy="733.6" rx="16.0" ry="32.0" transform="rotate(24 771.0 733.6)" />
<path class="k" d="M736.0,746.5 L734.1,747.7 L732.2,748.4 L730.6,748.5 L729.1,748.1 L727.9,747.2 L726.9,745.7 L726.1,743.7 L725.7,741.2 L725.5,738.4 L725.7,735.2 L726.1,731.7 L726.8,727.9 L727.8,724.0 L729.1,720.0 L730.6,716.0 L732.2,712.1 L734.1,708.3 L736.0,704.7 L738.1,701.4 L740.2,698.4 L742.3,695.9 L744.4,693.8 L746.5,692.2 L748.4,691.1" />
<ellipse class="t" cx="770.0" cy="733.0" rx="15.0" ry="30.0" transform="rotate(24 770.0 733.0)" />
<path class="w" d="M748,697 L760,702 L759,707 L747,702 Z" />
<ellipse class="l" cx="808.0" cy="758.0" rx="23.0" ry="37.0" transform="rotate(20 808.0 758.0)" style="stroke-width:1.4"/>
<ellipse class="l" cx="813.0" cy="761.5" rx="20.0" ry="34.0" transform="rotate(20 813.0 761.5)" style="stroke-width:1.6"/>
<ellipse class="w" cx="821.5" cy="723.5" rx="2.5" ry="2.0" />
<ellipse class="w" cx="851.0" cy="777.0" rx="16.0" ry="33.0" transform="rotate(25 851.0 777.0)" />
<path d="M863.7,746.6 L902.6,767.7 L885.4,810.3 L838.3,807.4 Z" fill="#fff" stroke="none"/>
<path class="l" d="M863.7,746.6 L902.6,767.7"/>
<path class="l" d="M838.3,807.4 L885.4,810.3"/>
<ellipse class="w" cx="894.0" cy="789.0" rx="13.0" ry="23.0" transform="rotate(25 894.0 789.0)" />
<path class="l" d="M836.8,806.1 L834.5,805.6 L832.5,804.4 L830.8,802.6 L829.5,800.3 L828.5,797.4 L828.0,794.1 L827.9,790.3 L828.2,786.3 L829.0,782.0 L830.1,777.6 L831.6,773.1 L833.5,768.7 L835.7,764.5 L838.1,760.4 L840.8,756.7 L843.5,753.4 L846.4,750.6 L849.4,748.2 L852.3,746.5 L855.1,745.4 L857.7,744.9 L860.2,745.0 L862.4,745.8 L864.3,747.2" />
<ellipse class="t" cx="894.0" cy="789.0" rx="11.0" ry="21.0" transform="rotate(25 894.0 789.0)" />
<ellipse class="k" cx="931.0" cy="810.0" rx="17.0" ry="25.0" transform="rotate(25 931.0 810.0)" style="stroke-width:2.6"/>
<ellipse class="k" cx="937.0" cy="811.0" rx="15.0" ry="23.0" transform="rotate(25 937.0 811.0)" />
<path class="k" d="M946,789 L951,787 L953,791" />
<ellipse class="k" cx="648.0" cy="823.5" rx="9.5" ry="13.0" transform="rotate(25 648.0 823.5)" style="stroke-width:2.4"/>
<ellipse class="k" cx="651.0" cy="824.0" rx="5.5" ry="9.0" transform="rotate(25 651.0 824.0)" style="stroke-width:1.6"/>
<ellipse class="t" cx="656.0" cy="811.5" rx="2.0" ry="1.5" />
<ellipse class="w" cx="670.5" cy="833.0" rx="4.0" ry="8.3" transform="rotate(27.5 670.5 833.0)" />
<path d="M674.3,825.6 L741.8,861.1 L734.2,875.9 L666.7,840.4 Z" fill="#fff" stroke="none"/>
<path class="l" d="M674.3,825.6 L741.8,861.1"/>
<path class="l" d="M666.7,840.4 L734.2,875.9"/>
<ellipse class="none" cx="738.0" cy="868.5" rx="4.0" ry="8.3" transform="rotate(27.5 738.0 868.5)" />
<path class="l" d="M742.5,854 Q748,851 745,858 Q739,866 745,872 Q741,879 733,883" />
</g>
<g>
<path class="t" d="M563.6,33.6 L572.3,92.0"/>
<text class="lab" x="562.0" y="31.5">1</text>
<path class="t" d="M629.5,37.4 L652.0,52.3"/>
<text class="lab" x="620.8" y="37.0">2</text>
<path class="t" d="M737.7,66.0 L782.4,66.0"/>
<text class="lab" x="797.4" y="71.5">3</text>
<path class="t" d="M658.0,211.7 L695.8,212.8"/>
<text class="lab" x="726.0" y="221.0">4</text>
<path class="t" d="M667.0,296.3 L710.0,296.3"/>
<text class="lab" x="726.0" y="303.5">5</text>
<path class="t" d="M673.0,365.7 L710.0,350.0"/>
<text class="lab" x="721.0" y="348.0">6</text>
<path class="t" d="M742.0,377.4 L785.0,377.4"/>
<text class="lab" x="802.0" y="384.5">7</text>
<path class="t" d="M746.4,417.4 L788.6,417.4"/>
<text class="lab" x="805.4" y="422.0">8</text>
<path class="t" d="M771.2,512.3 L755.0,537.6"/>
<text class="lab" x="781.3" y="508.5">9</text>
<path class="t" d="M681.5,514.0 L685.0,542.7"/>
<text class="lab" x="686.6" y="570.0">10</text>
<path class="t" d="M845.0,550.8 L828.0,575.0"/>
<text class="lab" x="858.0" y="548.0">10</text>
<path class="t" d="M898.5,576.5 L883.0,600.8"/>
<text class="lab" x="908.5" y="572.0">11</text>
<path class="t" d="M953.8,598.6 L936.0,625.0"/>
<text class="lab" x="966.0" y="594.0">10</text>
<path class="t" d="M1033.3,634.0 L1033.3,665.0"/>
<text class="lab" x="1035.5" y="687.0">12</text>
<path class="t" d="M980.3,651.7 L980.3,683.7"/>
<text class="lab" x="985.8" y="703.5">13</text>
<path class="t" d="M965.5,763.0 L948.3,788.4"/>
<text class="lab" x="980.7" y="757.3">14</text>
<path class="t" d="M901.7,730.6 L885.5,755.0"/>
<text class="lab" x="919.0" y="725.8">15</text>
<path class="t" d="M844.0,700.3 L825.7,725.6"/>
<text class="lab" x="860.0" y="697.0">16</text>
<path class="t" d="M767.1,652.5 L751.0,674.8"/>
<text class="lab" x="778.3" y="650.3">17</text>
<path class="t" d="M683.0,617.6 L658.6,630.8"/>
<text class="lab" x="702.7" y="613.0">18</text>
<path class="t" d="M524.0,701.4 L524.0,752.0"/>
<text class="lab" x="522.0" y="779.3">19</text>
<path class="t" d="M701.8,862.0 L685.3,885.4"/>
<text class="lab" x="674.3" y="903.5">20</text>
<path class="t" d="M638.5,834.5 L619.2,860.6"/>
<text class="lab" x="613.7" y="881.4">10</text>
<path class="t" d="M312.8,765.8 L295.9,787.4"/>
<text class="lab" x="292.8" y="808.0">21</text>
<path class="t" d="M136.0,788.3 L160.7,788.3"/>
<text class="lab" x="124.7" y="796.3">22</text>
<path class="t" d="M146.9,709.0 L171.5,709.0"/>
<text class="lab" x="133.0" y="717.0">23</text>
<path class="t" d="M145.3,659.8 L168.4,659.8"/>
<text class="lab" x="132.1" y="668.0">24</text>
<path class="t" d="M220.6,581.5 L248.3,577.5"/>
<text class="lab" x="210.8" y="591.0">25</text>
<path class="t" d="M257.5,500.0 L242.2,524.0"/>
<text class="lab" x="236.5" y="544.7">26</text>
<path class="t" d="M210.7,481.0 L195.4,505.3"/>
<text class="lab" x="190.0" y="524.3">16</text>
<path class="t" d="M69.6,420.4 L54.0,442.5"/>
<text class="lab" x="46.4" y="465.6">27</text>
<path class="t" d="M183.6,91.0 L168.8,115.2"/>
<text class="lab" x="203.5" y="85.3">28</text>
</g>
</svg>
</body></html>
